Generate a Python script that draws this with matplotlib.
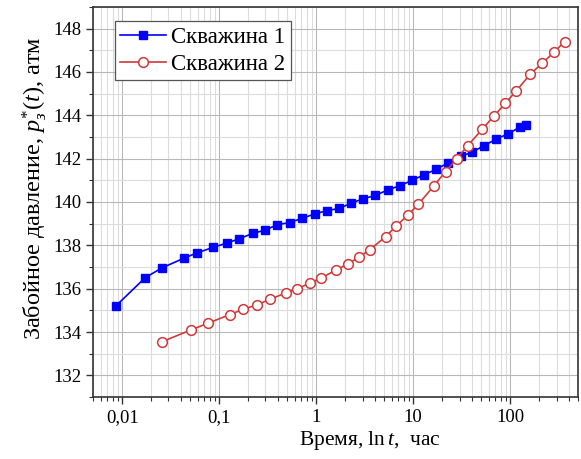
import numpy as np
import matplotlib
matplotlib.use('Agg')
import matplotlib.pyplot as plt
from matplotlib.ticker import LogLocator, MultipleLocator, FuncFormatter

plt.rcParams['font.family'] = ['Liberation Serif', 'DejaVu Serif']
plt.rcParams['mathtext.fontset'] = 'custom'
plt.rcParams['mathtext.rm'] = 'Liberation Serif'
plt.rcParams['mathtext.it'] = 'Liberation Serif:italic'

# Скважина 1
t1 = [0.0086, 0.0172, 0.0255, 0.043, 0.059, 0.086, 0.119, 0.161, 0.221, 0.298,
      0.395, 0.532, 0.718, 0.97, 1.29, 1.72, 2.30, 3.06, 4.06, 5.43, 7.27, 9.73,
      12.9, 17.1, 22.8, 30.7, 40.5, 53.7, 71.8, 95.3, 126, 144]
p1 = [135.2, 136.5, 136.95, 137.4, 137.65, 137.9, 138.1, 138.3, 138.55, 138.7,
      138.95, 139.05, 139.25, 139.45, 139.6, 139.7, 139.95, 140.15, 140.3, 140.55,
      140.75, 141.0, 141.25, 141.5, 141.8, 142.1, 142.3, 142.6, 142.9, 143.15,
      143.45, 143.55]

# Скважина 2
t2 = [0.0257, 0.0514, 0.0762, 0.128, 0.178, 0.244, 0.330, 0.484, 0.638, 0.854,
      1.13, 1.59, 2.13, 2.76, 3.58, 5.19, 6.70, 8.85, 11.3, 16.4, 21.5, 28.1,
      36.5, 51.3, 67.4, 88.9, 114, 161, 213, 281, 364]
p2 = [133.55, 134.1, 134.4, 134.8, 135.05, 135.25, 135.5, 135.8, 136.0, 136.25,
      136.5, 136.85, 137.15, 137.45, 137.8, 138.4, 138.9, 139.4, 139.9, 140.75,
      141.4, 142.0, 142.6, 143.35, 143.95, 144.55, 145.1, 145.9, 146.4, 146.9,
      147.4]

fig = plt.figure(figsize=(5.81, 4.59), dpi=100)
ax = fig.add_axes([0.160, 0.135, 0.835, 0.85])

ax.plot(t1, p1, color='#0000ff', lw=1.2, marker='s', ms=5.8,
        mfc='#0000ff', mec='#0000ff', label='Скважина 1', zorder=3)
ax.plot(t2, p2, color='#cf3a3a', lw=1.2, marker='o', ms=7,
        mfc='white', mec='#cf3a3a', mew=1.1, label='Скважина 2', zorder=3)

ax.set_xscale('log')
ax.set_xlim(0.005, 500)
ax.set_ylim(131, 149)

ax.xaxis.set_major_locator(LogLocator(base=10, numticks=12))
ax.xaxis.set_minor_locator(LogLocator(base=10, subs=np.arange(2, 10), numticks=12))
ax.xaxis.set_major_formatter(FuncFormatter(lambda v, pos: ('%g' % v).replace('.', ',')))
ax.yaxis.set_major_locator(MultipleLocator(2))
ax.yaxis.set_minor_locator(MultipleLocator(1))

ax.grid(which='major', color='#b8b8b8', lw=0.8)
ax.grid(which='minor', color='#dcdcdc', lw=0.8)
ax.set_axisbelow(True)

ax.tick_params(which='both', direction='out', top=False, right=False,
               labelsize=13.5, color='#333333')
ax.tick_params(which='major', length=5, width=1)
ax.tick_params(which='minor', length=3, width=0.8)
for s in ax.spines.values():
    s.set_linewidth(1.2)
    s.set_color('#333333')

ax.set_xlabel(r'Время, $\ln t$,  час', fontsize=15.5, labelpad=2)
ax.xaxis.label.set_x(0.571)
ax.set_ylabel(r'Забойное давление, $p^{*}_{з}(t)$, атм', fontsize=17.5, labelpad=3)
ax.yaxis.label.set_y(0.535)

leg = ax.legend(loc='upper left', bbox_to_anchor=(0.035, 0.975), fontsize=16.5,
                frameon=True, fancybox=False, framealpha=1, edgecolor='#555555',
                handlelength=2.0, borderpad=0.25, labelspacing=0.25, handletextpad=0.2,
                borderaxespad=0.2)
leg.get_frame().set_linewidth(0.9)

fig.savefig('out.png', dpi=100)
